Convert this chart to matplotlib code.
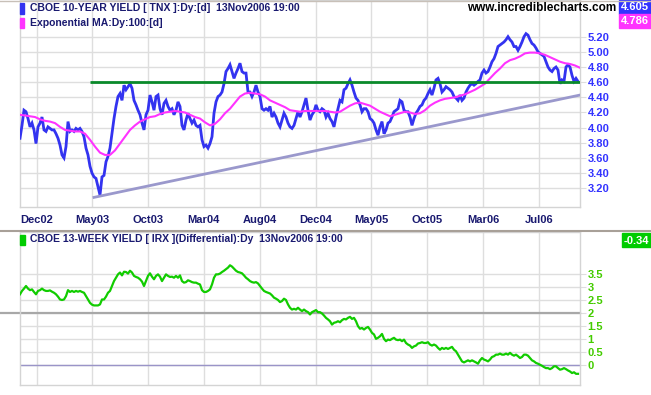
import numpy as np
import matplotlib.pyplot as plt
from matplotlib.patches import Rectangle
from matplotlib.lines import Line2D

plt.rcParams['font.family'] = ['Liberation Sans', 'DejaVu Sans']

# x axis: one sample per ~4 trading days, Oct 2002 .. 13 Nov 2006
months = ['Dec02', 'May03', 'Oct03', 'Mar04', 'Aug04', 'Dec04',
          'May05', 'Oct05', 'Mar06', 'Jul06']

# CBOE 10-year yield (TNX)
tnx = [3.86, 4.03, 4.23, 4.21, 4.12, 4.01, 4.06, 3.97, 3.79, 4.01,
       4.06, 4.14, 3.97, 3.95, 4.01, 3.99, 3.97, 3.97, 3.92, 3.86,
       3.77, 3.64, 3.60, 3.75, 4.08, 3.95, 3.97, 3.95, 3.99, 3.97,
       3.99, 3.95, 3.88, 3.73, 3.64, 3.49, 3.40, 3.35, 3.33, 3.22,
       3.11, 3.35, 3.37, 3.55, 3.62, 3.73, 3.92, 4.12, 4.28, 4.41,
       4.45, 4.36, 4.56, 4.50, 4.54, 4.58, 4.52, 4.36, 4.30, 4.23,
       4.17, 4.06, 3.97, 4.17, 4.23, 4.43, 4.34, 4.23, 4.41, 4.43,
       4.25, 4.17, 4.32, 4.36, 4.28, 4.23, 4.25, 4.17, 4.23, 4.34,
       4.28, 4.03, 3.97, 4.10, 4.19, 4.12, 4.06, 4.10, 4.03, 4.01,
       4.03, 3.84, 3.75, 3.77, 3.73, 3.79, 3.88, 4.19, 4.34, 4.41,
       4.43, 4.47, 4.58, 4.74, 4.78, 4.83, 4.74, 4.65, 4.72, 4.78,
       4.85, 4.74, 4.72, 4.72, 4.47, 4.47, 4.41, 4.47, 4.56, 4.47,
       4.41, 4.25, 4.23, 4.25, 4.23, 4.28, 4.14, 4.19, 4.14, 4.06,
       4.01, 4.10, 4.19, 4.14, 4.06, 4.01, 3.99, 4.03, 4.12, 4.21,
       4.14, 4.21, 4.30, 4.39, 4.23, 4.10, 4.17, 4.21, 4.30, 4.23,
       4.21, 4.25, 4.23, 4.14, 4.19, 4.12, 4.08, 4.01, 4.14, 4.25,
       4.36, 4.34, 4.50, 4.52, 4.58, 4.63, 4.56, 4.47, 4.39, 4.36,
       4.30, 4.21, 4.25, 4.25, 4.21, 4.12, 4.10, 4.06, 3.97, 3.90,
       4.01, 4.08, 3.92, 3.97, 4.06, 4.08, 4.14, 4.21, 4.23, 4.25,
       4.36, 4.34, 4.23, 4.21, 4.21, 4.14, 4.03, 4.12, 4.19, 4.23,
       4.28, 4.30, 4.36, 4.39, 4.45, 4.50, 4.43, 4.52, 4.63, 4.65,
       4.58, 4.47, 4.50, 4.54, 4.52, 4.50, 4.47, 4.41, 4.39, 4.36,
       4.43, 4.36, 4.39, 4.47, 4.52, 4.56, 4.58, 4.56, 4.58, 4.61,
       4.63, 4.72, 4.76, 4.72, 4.74, 4.80, 4.87, 4.91, 4.98, 5.07,
       5.09, 5.11, 5.13, 5.16, 5.20, 5.16, 5.13, 5.07, 5.07, 5.02,
       5.07, 5.13, 5.20, 5.24, 5.22, 5.16, 5.11, 5.09, 5.05, 5.00,
       4.98, 4.96, 4.94, 4.87, 4.80, 4.76, 4.74, 4.78, 4.80, 4.76,
       4.58, 4.63, 4.61, 4.80, 4.83, 4.80, 4.69, 4.61, 4.65, 4.61]

# exponential MA 100, read every 2.5 samples
ema100 = [4.17, 4.16, 4.15, 4.14, 4.11, 4.09, 4.08, 4.06, 4.01, 3.97,
          3.96, 3.95, 3.95, 3.92, 3.84, 3.75, 3.67, 3.64, 3.64, 3.70,
          3.79, 3.88, 3.97, 4.03, 4.08, 4.11, 4.14, 4.15, 4.18, 4.20,
          4.21, 4.22, 4.21, 4.20, 4.17, 4.14, 4.12, 4.07, 4.03, 4.05,
          4.11, 4.19, 4.25, 4.33, 4.41, 4.45, 4.46, 4.45, 4.44, 4.41,
          4.36, 4.33, 4.30, 4.27, 4.23, 4.22, 4.21, 4.22, 4.22, 4.22,
          4.22, 4.22, 4.21, 4.20, 4.21, 4.25, 4.29, 4.32, 4.33, 4.31,
          4.29, 4.25, 4.21, 4.18, 4.15, 4.17, 4.19, 4.21, 4.20, 4.18,
          4.19, 4.23, 4.29, 4.33, 4.36, 4.38, 4.39, 4.40, 4.42, 4.44,
          4.47, 4.50, 4.54, 4.58, 4.65, 4.72, 4.78, 4.85, 4.89, 4.91,
          4.94, 4.98, 4.99, 4.99, 4.98, 4.96, 4.93, 4.90, 4.87, 4.85,
          4.84, 4.82, 4.79]

# CBOE 13-week yield differential (IRX)
irx = [2.73, 2.86, 2.95, 3.05, 2.95, 2.89, 2.92, 2.82, 2.73, 2.86,
       2.89, 2.95, 2.89, 2.86, 2.86, 2.88, 2.83, 2.79, 2.73, 2.64,
       2.53, 2.51, 2.53, 2.66, 2.89, 2.82, 2.86, 2.82, 2.86, 2.83,
       2.86, 2.82, 2.79, 2.66, 2.53, 2.40, 2.33, 2.30, 2.30, 2.30,
       2.34, 2.53, 2.53, 2.64, 2.79, 2.86, 3.05, 3.24, 3.37, 3.50,
       3.57, 3.46, 3.60, 3.59, 3.53, 3.64, 3.57, 3.44, 3.40, 3.37,
       3.31, 3.22, 3.05, 3.24, 3.44, 3.54, 3.41, 3.31, 3.44, 3.50,
       3.41, 3.24, 3.37, 3.50, 3.44, 3.40, 3.41, 3.37, 3.44, 3.37,
       3.46, 3.24, 3.18, 3.20, 3.27, 3.24, 3.20, 3.18, 3.18, 3.14,
       3.11, 2.89, 2.82, 2.82, 2.86, 2.92, 3.11, 3.37, 3.50, 3.50,
       3.53, 3.59, 3.64, 3.70, 3.76, 3.85, 3.80, 3.72, 3.64, 3.59,
       3.57, 3.54, 3.46, 3.37, 3.31, 3.24, 3.20, 3.18, 3.20, 3.15,
       3.05, 2.95, 2.86, 2.82, 2.79, 2.76, 2.69, 2.60, 2.56, 2.51,
       2.43, 2.47, 2.56, 2.51, 2.34, 2.21, 2.14, 2.17, 2.14, 2.21,
       2.14, 2.08, 2.14, 2.08, 2.04, 1.95, 2.04, 2.08, 2.12, 2.04,
       2.04, 1.99, 1.91, 1.82, 1.76, 1.69, 1.56, 1.63, 1.65, 1.69,
       1.65, 1.73, 1.78, 1.76, 1.82, 1.86, 1.78, 1.82, 1.69, 1.50,
       1.40, 1.43, 1.37, 1.43, 1.47, 1.37, 1.24, 1.18, 1.01, 1.05,
       1.11, 1.20, 1.01, 0.92, 0.98, 0.96, 1.01, 1.05, 0.98, 0.96,
       0.98, 0.92, 0.98, 0.85, 0.79, 0.75, 0.66, 0.72, 0.75, 0.83,
       0.85, 0.88, 0.85, 0.85, 0.88, 0.79, 0.75, 0.79, 0.75, 0.66,
       0.59, 0.66, 0.62, 0.66, 0.62, 0.66, 0.70, 0.59, 0.53, 0.40,
       0.27, 0.14, 0.10, 0.14, 0.18, 0.14, 0.18, 0.14, 0.10, 0.05,
       0.18, 0.27, 0.21, 0.18, 0.14, 0.21, 0.31, 0.34, 0.40, 0.40,
       0.44, 0.40, 0.40, 0.44, 0.40, 0.47, 0.40, 0.36, 0.40, 0.34,
       0.27, 0.31, 0.40, 0.40, 0.36, 0.27, 0.18, 0.14, 0.08, 0.05,
       0.01, -0.03, -0.08, -0.12, -0.12, -0.16, -0.12, -0.05, -0.05, -0.12,
       -0.18, -0.16, -0.12, -0.16, -0.21, -0.25, -0.31, -0.28, -0.34, -0.34]

resist_level = 4.60
resist_start = 35
trend_x = [37, 280]
trend_y = [3.08, 4.43]
tnx_last = '4.605'
ema_last = '4.786'
irx_last = '-0.34'

W, H = 651, 395
fig = plt.figure(figsize=(W / 100, H / 100), dpi=100)
fig.patch.set_facecolor('white')


def fx(px):
    return px / W


def fy(py):
    return 1 - py / H


navy = '#1a1a70'
grid_c = '#dedede'
blue = '#3333f0'
magenta = '#ff33ff'
green = '#11cc00'

ax1 = fig.add_axes([fx(19.7), fy(207), fx(580) - fx(19.7), fy(0) - fy(207)])
ax2 = fig.add_axes([fx(19.7), fy(385), fx(580) - fx(19.7), fy(232) - fy(385)])

tick_pos = 8.25 + 27.9 * np.arange(len(months))

# ---- top panel
x = np.arange(len(tnx))
ax1.plot(x, tnx, color=blue, lw=2.0, solid_joinstyle='miter', zorder=3)
ax1.plot(np.arange(len(ema100)) * 2.5, ema100, color=magenta, lw=1.5, zorder=4)
ax1.hlines(resist_level, resist_start, len(tnx), color='#0a8a2a', lw=2.0, zorder=5)
ax1.plot(trend_x, trend_y, color='#9a98cc', lw=2.0, zorder=5)

ax1.set_xlim(-0.15, 280)
ax1.set_ylim(2.953, 5.684)
ax1.set_xticks(tick_pos)
ax1.set_xticklabels(months, fontsize=8, fontweight='bold', color=navy)
ax1.set_yticks(np.arange(3.2, 5.21, 0.2))
ax1.set_yticklabels(['%.2f' % v for v in np.arange(3.2, 5.21, 0.2)],
                    fontsize=8, fontweight='bold', color='#3333ff')
ax1.yaxis.tick_right()
ax1.tick_params(axis='x', length=0, pad=6)
ax1.tick_params(axis='y', length=4, color=grid_c, pad=1.5)
ax1.grid(True, color=grid_c, lw=1.0)
ax1.set_axisbelow(True)

# ---- bottom panel
ax2.plot(np.arange(len(irx)), irx, color=green, lw=1.6, zorder=4)
ax2.axhline(2, xmin=-19.7 / 560.3, xmax=1.0, color='#a8a8a8', lw=1.6,
            clip_on=False, zorder=2)
ax2.axhline(0, color='#9a94c8', lw=1.0, zorder=2)
ax2.set_xlim(-0.15, 280)
ax2.set_ylim(-0.772, 5.135)
ax2.set_xticks(tick_pos)
ax2.tick_params(axis='x', length=0, labelbottom=False)
yt = np.arange(0, 3.51, 0.5)
ax2.set_yticks(yt)
ax2.set_yticklabels(['%g' % v for v in yt], fontsize=8, fontweight='bold',
                    color='#44cc00')
ax2.yaxis.tick_right()
ax2.tick_params(axis='y', length=4, color=grid_c, pad=1.5)
ax2.grid(True, color=grid_c, lw=1.0)
ax2.set_axisbelow(True)

for ax in (ax1, ax2):
    for s in ax.spines.values():
        s.set_color('#d4d4d4')
        s.set_linewidth(1.0)

# frame line at top and panel separator
fig.add_artist(Line2D([0, 1], [fy(0.5), fy(0.5)], color='#c8c0b8', lw=1.0))
fig.add_artist(Line2D([0, 1], [fy(231), fy(231)], color='#a8a098', lw=1.5))

# legends
fig.add_artist(Rectangle((fx(19.5), fy(13.5)), 4 / W, 10 / H, color=blue))
fig.text(fx(30), fy(8), 'CBOE 10-YEAR YIELD [ TNX ]:Dy:[d]  13Nov2006 19:00',
         fontsize=7.5, fontweight='bold', color=navy, va='center')
fig.add_artist(Rectangle((fx(19.5), fy(28)), 4 / W, 10 / H, color=magenta))
fig.text(fx(30), fy(22.5), 'Exponential MA:Dy:100:[d]',
         fontsize=7.5, fontweight='bold', color=navy, va='center')
fig.add_artist(Rectangle((fx(19.5), fy(244.5)), 5 / W, 10 / H, color='#00cc00'))
fig.text(fx(30), fy(239.5), 'CBOE 13-WEEK YIELD [ IRX ](Differential):Dy  13Nov2006 19:00',
         fontsize=7.5, fontweight='bold', color=navy, va='center')

fig.text(fx(616), fy(8), 'www.incrediblecharts.com', ha='right', va='center',
         fontsize=8.5, fontweight='bold', color='black')

# last value boxes
fig.add_artist(Rectangle((fx(619), fy(14)), 32 / W, 14 / H, color='#3333ff'))
fig.text(fx(635), fy(7.5), tnx_last, ha='center', va='center', fontsize=8,
         fontweight='bold', color='white')
fig.add_artist(Rectangle((fx(619), fy(28)), 32 / W, 14 / H, color='#ff33ff'))
fig.text(fx(635), fy(21.5), ema_last, ha='center', va='center', fontsize=8,
         fontweight='bold', color='white')
fig.add_artist(Rectangle((fx(622), fy(247)), 29 / W, 14 / H, color='#00cc00'))
fig.text(fx(636.5), fy(240.5), irx_last, ha='center', va='center', fontsize=8,
         fontweight='bold', color='white')

fig.savefig('out.png', dpi=100)
